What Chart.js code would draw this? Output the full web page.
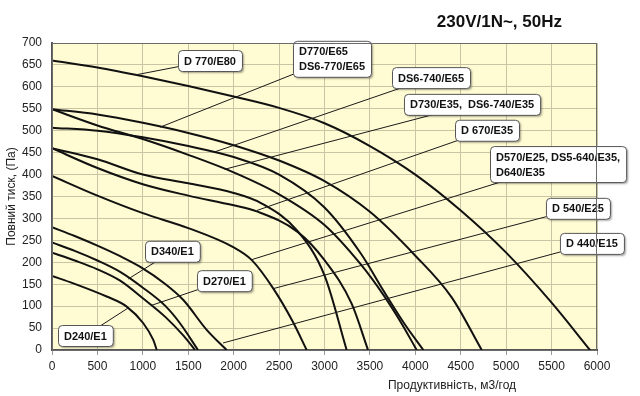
<!DOCTYPE html>
<html>
<head>
<meta charset="utf-8">
<script src="https://cdn.jsdelivr.net/npm/chart.js@4.4.0/dist/chart.umd.min.js"></script>
<style>
    html, body { margin: 0; padding: 0; background: #fff; }
    #wrap { width: 640px; height: 396px; }
</style>
</head>
<body>
<div id="wrap"><canvas id="fanChart" width="640" height="396"></canvas></div>
<script>
// fan curves: flow (m3/h) vs total pressure (Pa)
const d770e80Flow = [0, 500, 1000, 1500, 2000, 2500, 3000, 3500, 4000, 4500, 5000, 5500, 5923];
const d770e80Pa   = [660, 644, 624, 602, 578, 552, 517, 465, 400, 318, 222, 108, 0];

const d770e65Flow = [0, 500, 1000, 1500, 2000, 2500, 3000, 3500, 4000, 4400, 4731];
const d770e65Pa   = [549, 537, 518, 495, 467, 432, 385, 315, 215, 120, 0];

const ds6740e65Flow = [0, 500, 1000, 1500, 2000, 2500, 3000, 3400, 3650, 3880, 4088];
const ds6740e65Pa   = [507, 500, 485, 465, 440, 400, 325, 220, 135, 60, 0];

const d730e35Flow = [0, 500, 1000, 1500, 2000, 2500, 3000, 3400, 3650, 3850, 4015];
const d730e35Pa   = [549, 512, 481, 445, 405, 355, 285, 195, 125, 60, 0];

const d670e35Flow = [0, 500, 1000, 1500, 2000, 2254, 2700, 3000, 3300, 3479];
const d670e35Pa   = [460, 415, 378, 352, 330, 316, 270, 205, 105, 0];

const d570e25Flow = [0, 500, 1000, 1500, 2000, 2300, 2700, 3000, 3244];
const d570e25Pa   = [460, 435, 400, 380, 358, 335, 272, 170, 0];

const d540e25Flow = [0, 500, 1000, 1500, 2000, 2200, 2437, 2650, 2804];
const d540e25Pa   = [397, 352, 312, 278, 234, 205, 140, 65, 0];

const d440e15Flow = [0, 250, 500, 750, 968, 1250, 1446, 1703, 1923];
const d440e15Pa   = [280, 260, 238, 214, 190, 150, 114, 46, 0];

const d340e1Flow = [0, 250, 500, 750, 1000, 1250, 1409, 1607];
const d340e1Pa   = [245, 226, 204, 178, 142, 100, 61, 0];

const d270e1Flow = [0, 250, 500, 750, 1000, 1250, 1450, 1574];
const d270e1Pa   = [222, 204, 184, 158, 118, 75, 32, 0];

const d240e1Flow = [0, 235, 602, 822, 1005, 1115, 1153];
const d240e1Pa   = [169, 152, 122, 99, 61, 23, 0];

const curves = [
    [d770e80Flow, d770e80Pa], [d770e65Flow, d770e65Pa], [ds6740e65Flow, ds6740e65Pa],
    [d730e35Flow, d730e35Pa], [d670e35Flow, d670e35Pa], [d570e25Flow, d570e25Pa],
    [d540e25Flow, d540e25Pa], [d440e15Flow, d440e15Pa], [d340e1Flow, d340e1Pa],
    [d270e1Flow, d270e1Pa], [d240e1Flow, d240e1Pa]
];

const xTicks = [0, 500, 1000, 1500, 2000, 2500, 3000, 3500, 4000, 4500, 5000, 5500, 6000];
const yTicks = [0, 50, 100, 150, 200, 250, 300, 350, 400, 450, 500, 550, 600, 650, 700];

const chartTitle = '230V/1N~, 50Hz';
const xTitle = 'Продуктивність, м3/год';
const yTitle = 'Повний тиск, (Па)';

// callout labels: text lines, box top-left (in data units), pointed curve point
const callouts = [
    { text: ['D 770/E80'], box: [1387, 684], target: [914, 627] },
    { text: ['D770/E65', 'DS6-770/E65'], box: [2653, 705], target: [1189, 508] },
    { text: ['DS6-740/E65'], box: [3743, 645], target: [1795, 452] },
    { text: ['D730/E35,  DS6-740/E35'], box: [3875, 584], target: [1900, 412] },
    { text: ['D 670/E35'], box: [4437, 525], target: [2254, 318] },
    { text: ['D570/E25, DS5-640/E35,', 'D640/E35'], box: [4822, 465], target: [2199, 206] },
    { text: ['D 540/E25'], box: [5438, 347], target: [2437, 140] },
    { text: ['D 440/E15'], box: [5592, 267], target: [1883, 16] },
    { text: ['D340/E1'], box: [1024, 249], target: [840, 162] },
    { text: ['D270/E1'], box: [1596, 182], target: [1098, 102] },
    { text: ['D240/E1'], box: [66, 57], target: [840, 96] }
];

const FONT = '"Liberation Sans", Arial, sans-serif';

const plotBackground = {
    id: 'plotBackground',
    beforeDraw(chart) {
        const { ctx, chartArea: a } = chart;
        ctx.save();
        ctx.fillStyle = '#FFFBD3';
        ctx.fillRect(a.left, a.top, a.right - a.left, a.bottom - a.top);
        ctx.restore();
    },
    afterDraw(chart) {
        const { ctx, chartArea: a } = chart;
        ctx.save();
        ctx.strokeStyle = '#6b6b6b';
        ctx.lineWidth = 1;
        ctx.strokeRect(a.left + 0.5, a.top + 0.5, a.right - a.left - 1, a.bottom - a.top);
        ctx.fillStyle = '#111';
        ctx.font = 'bold 17px ' + FONT;
        ctx.textAlign = 'right';
        ctx.textBaseline = 'middle';
        ctx.fillText(chartTitle, a.right - 35, 22);
        ctx.font = '12px ' + FONT;
        ctx.textAlign = 'center';
        ctx.fillStyle = '#222';
        ctx.fillText(xTitle, a.right - 145, 386);
        ctx.restore();
    }
};

const calloutPlugin = {
    id: 'callouts',
    afterDatasetsDraw(chart) {
        const { ctx, scales: { x, y } } = chart;
        ctx.save();
        ctx.font = 'bold 11px ' + FONT;
        callouts.forEach(c => {
            const bx = x.getPixelForValue(c.box[0]);
            const by = y.getPixelForValue(c.box[1]);
            const w = Math.max(...c.text.map(t => ctx.measureText(t).width)) + 12;
            const h = c.text.length * 15 + 6;
            const tx = x.getPixelForValue(c.target[0]);
            const ty = y.getPixelForValue(c.target[1]);

            ctx.strokeStyle = '#1a1a1a';
            ctx.lineWidth = 1;
            ctx.beginPath();
            ctx.moveTo(bx + w / 2, by + h / 2);
            ctx.lineTo(tx, ty);
            ctx.stroke();

            ctx.save();
            ctx.shadowColor = 'rgba(0,0,0,0.35)';
            ctx.shadowBlur = 2;
            ctx.shadowOffsetX = 1.5;
            ctx.shadowOffsetY = 1.5;
            ctx.fillStyle = '#fff';
            ctx.beginPath();
            ctx.roundRect(bx + 0.5, by + 0.5, w, h, 4);
            ctx.fill();
            ctx.restore();
            ctx.strokeStyle = '#555';
            ctx.beginPath();
            ctx.roundRect(bx + 0.5, by + 0.5, w, h, 4);
            ctx.stroke();

            ctx.fillStyle = '#111';
            ctx.textAlign = 'left';
            ctx.textBaseline = 'middle';
            c.text.forEach((t, i) => {
                ctx.fillText(t, bx + 6, by + 3 + 7.5 + i * 15 + 1);
            });
        });
        ctx.restore();
    }
};

const datasets = curves.map(([flow, pa]) => ({
    data: flow.map((f, i) => ({ x: f, y: pa[i] })),
    showLine: true,
    borderColor: '#111',
    borderWidth: 2,
    pointRadius: 0,
    cubicInterpolationMode: 'monotone',
    fill: false
}));

new Chart(document.getElementById('fanChart'), {
    type: 'scatter',
    data: { datasets: datasets },
    options: {
        responsive: false,
        animation: false,
        devicePixelRatio: 1,
        layout: { padding: { top: 43, right: 43, left: 0, bottom: 0 } },
        plugins: {
            legend: { display: false },
            tooltip: { enabled: false }
        },
        scales: {
            x: {
                type: 'linear',
                min: 0,
                max: 6000,
                afterFit: scale => { scale.height = 46; },
                afterBuildTicks: scale => { scale.ticks = xTicks.map(v => ({ value: v })); },
                ticks: {
                    font: { size: 12, family: FONT },
                    color: '#222',
                    padding: 4,
                    maxRotation: 0,
                    callback: v => String(v)
                },
                grid: { color: '#c9c4a3', tickLength: 5, tickColor: '#999' },
                border: { color: '#555', width: 2 }
            },
            y: {
                type: 'linear',
                min: 0,
                max: 700,
                afterFit: scale => { scale.width = 52; },
                afterBuildTicks: scale => { scale.ticks = yTicks.map(v => ({ value: v })); },
                ticks: {
                    font: { size: 12, family: FONT },
                    color: '#222',
                    padding: 10,
                    callback: v => String(v)
                },
                grid: { color: '#c9c4a3', drawTicks: false },
                border: { color: '#555', width: 2 },
                title: {
                    display: true,
                    text: yTitle,
                    font: { size: 12, family: FONT },
                    color: '#222',
                    padding: { top: 4, bottom: 0 }
                }
            }
        }
    },
    plugins: [plotBackground, calloutPlugin]
});
</script>
</body>
</html>
